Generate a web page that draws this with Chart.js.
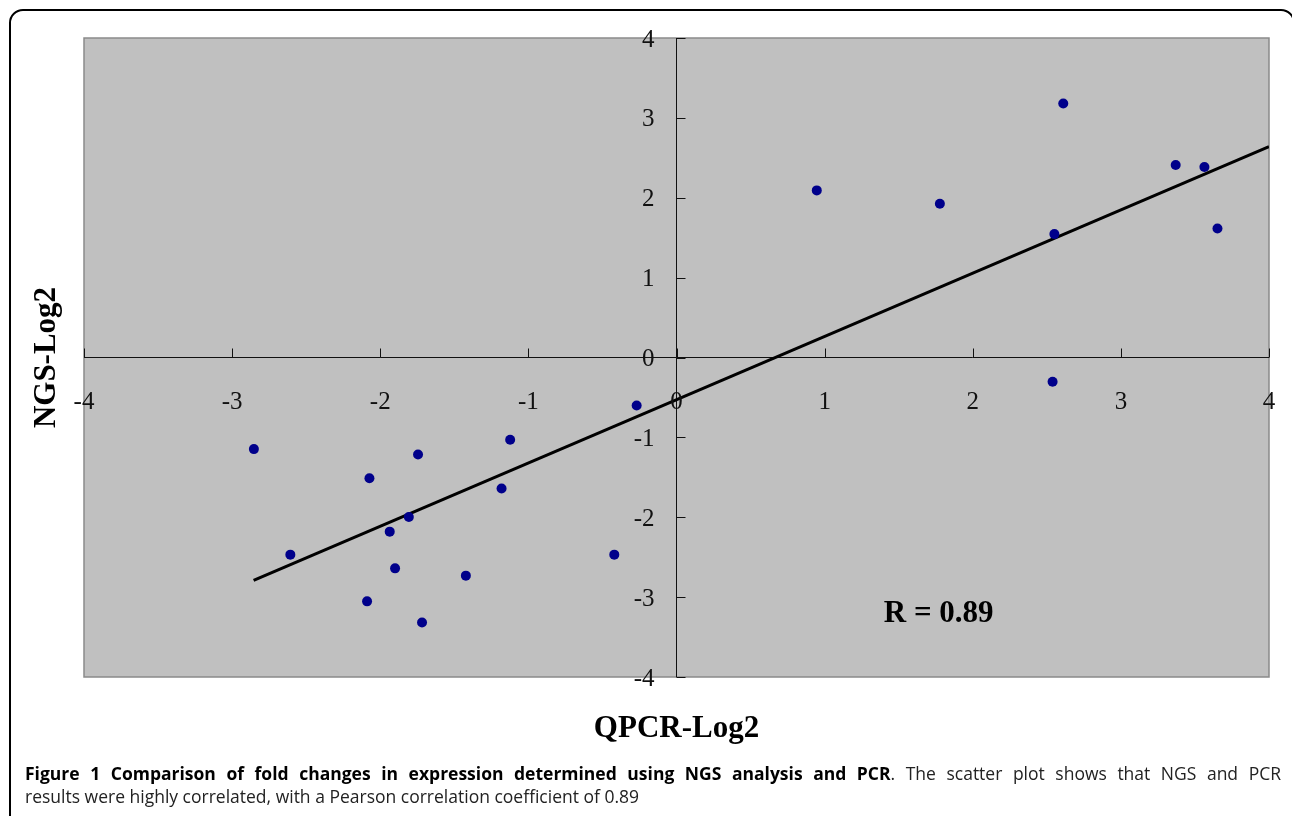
<!DOCTYPE html>
<html>
<head>
<meta charset="utf-8">
<script src="https://cdn.jsdelivr.net/npm/chart.js@4/dist/chart.umd.min.js"></script>
<style>
  html, body { margin: 0; padding: 0; width: 1292px; height: 816px; overflow: hidden; background: #fff; }
  #frame { position: absolute; left: 9px; top: 9px; width: 1286px; height: 840px; border: 2px solid #000; border-radius: 14px; box-sizing: border-box; }
  #c { position: absolute; left: 0; top: 0; }
  .cap { position: absolute; left: 25px; width: 1256px; font-family: "Open Sans", "Noto Sans", sans-serif; font-size: 17.5px; line-height: 23px; color: #222; white-space: nowrap; }
  #cap1 { top: 762px; text-align: justify; text-align-last: justify; }
  #cap2 { top: 785px; }
  b { font-weight: 700; color: #000; }
</style>
</head>
<body>
<div id="frame"></div>
<canvas id="c" width="1292" height="816"></canvas>
<div class="cap" id="cap1"><b>Figure 1 Comparison of fold changes in expression determined using NGS analysis and PCR</b>. The scatter plot shows that NGS and PCR</div>
<div class="cap" id="cap2">results were highly correlated, with a Pearson correlation coefficient of 0.89</div>
<script>
// QPCR-Log2 (x) and NGS-Log2 (y) values
const qpcrLog2 = [-2.853, -1.745, -2.073, -1.807, -1.936, -2.607, -1.900, -2.089, -1.718,
                  -1.123, -1.181, -1.422, -0.420, -0.269,
                  0.947, 2.611, 1.778, 2.551, 3.370, 3.564, 3.652, 2.539];
const ngsLog2  = [-1.147, -1.214, -1.511, -1.996, -2.180, -2.468, -2.640, -3.053, -3.317,
                  -1.030, -1.640, -2.731, -2.468, -0.600,
                  2.092, 3.179, 1.925, 1.545, 2.410, 2.385, 1.615, -0.303];
// Trend line end points
const trendX = [-2.855, 4];
const trendY = [-2.79, 2.64];
// Tick labels
const xTicks = [-4, -3, -2, -1, 0, 1, 2, 3, 4];
const yTicks = [-4, -3, -2, -1, 0, 1, 2, 3, 4];
const xTitle = "QPCR-Log2";
const yTitle = "NGS-Log2";
const rText = "R = 0.89";

const points = qpcrLog2.map((x, i) => ({x: x, y: ngsLog2[i]}));
const trend = trendX.map((x, i) => ({x: x, y: trendY[i]}));

const decor = {
  id: 'decor',
  beforeDatasetsDraw(chart) {
    const ctx = chart.ctx, a = chart.chartArea;
    const xs = chart.scales.x, ys = chart.scales.y;
    ctx.save();
    ctx.fillStyle = '#c0c0c0';
    ctx.fillRect(a.left, a.top, a.right - a.left, a.bottom - a.top);
    ctx.strokeStyle = '#8a8a8a';
    ctx.lineWidth = 1.5;
    ctx.strokeRect(a.left, a.top, a.right - a.left, a.bottom - a.top);
    const x0 = xs.getPixelForValue(0), y0 = ys.getPixelForValue(0);
    ctx.strokeStyle = '#111';
    ctx.lineWidth = 1;
    ctx.beginPath();
    ctx.moveTo(a.left, y0); ctx.lineTo(a.right, y0);
    ctx.moveTo(x0, a.top); ctx.lineTo(x0, a.bottom);
    xTicks.forEach(v => { const p = Math.round(xs.getPixelForValue(v)) + 0.5; ctx.moveTo(p, y0); ctx.lineTo(p, y0 - 9); });
    yTicks.forEach(v => { const p = Math.round(ys.getPixelForValue(v)) + 0.5; ctx.moveTo(x0, p); ctx.lineTo(x0 + 9, p); });
    ctx.stroke();
    ctx.restore();
  },
  afterDraw(chart) {
    const ctx = chart.ctx, a = chart.chartArea;
    const xs = chart.scales.x, ys = chart.scales.y;
    const x0 = xs.getPixelForValue(0), y0 = ys.getPixelForValue(0);
    ctx.save();
    ctx.fillStyle = '#111';
    ctx.font = '25px "Liberation Serif", serif';
    ctx.textAlign = 'center'; ctx.textBaseline = 'middle';
    xTicks.forEach(v => ctx.fillText(String(v), xs.getPixelForValue(v), y0 + 45));
    ctx.textAlign = 'right';
    yTicks.forEach(v => ctx.fillText(String(v), x0 - 22, ys.getPixelForValue(v) + 2));
    ctx.fillStyle = '#000';
    ctx.font = 'bold 31px "Liberation Serif", serif';
    ctx.textAlign = 'center'; ctx.textBaseline = 'alphabetic';
    ctx.fillText(xTitle, (a.left + a.right) / 2, 737);
    ctx.fillText(rText, xs.getPixelForValue(1.77), ys.getPixelForValue(-3.31));
    ctx.translate(55, (a.top + a.bottom) / 2);
    ctx.rotate(-Math.PI / 2);
    ctx.fillText(yTitle, 0, 0);
    ctx.restore();
  }
};

new Chart(document.getElementById('c'), {
  type: 'scatter',
  data: {
    datasets: [
      { label: 'data', data: points, backgroundColor: '#00008b', borderWidth: 0, pointRadius: 5, order: 0 },
      { type: 'line', label: 'trend', data: trend, borderColor: '#000', borderWidth: 3, pointRadius: 0, fill: false, showLine: true, order: 1 }
    ]
  },
  options: {
    responsive: false,
    animation: false,
    events: [],
    layout: { padding: { left: 84, top: 38, right: 23, bottom: 139 } },
    plugins: { legend: { display: false }, tooltip: { enabled: false } },
    scales: {
      x: { type: 'linear', min: -4, max: 4, display: false },
      y: { type: 'linear', min: -4, max: 4, display: false }
    }
  },
  plugins: [decor]
});
</script>
</body>
</html>
